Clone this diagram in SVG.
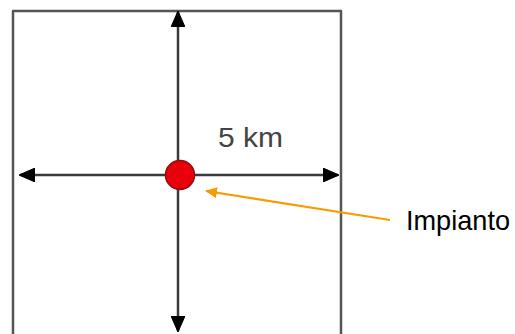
<svg xmlns="http://www.w3.org/2000/svg" width="515" height="334" viewBox="0 0 515 334">
<style>
.frame{fill:none;stroke:#555;stroke-width:2.5;stroke-linejoin:round}
.axis{stroke:#3a3a3a;stroke-width:2.5;fill:none}
.lbl{font-family:"Liberation Sans",Arial,sans-serif;font-size:28px}
</style>
<defs>
<marker id="ah" viewBox="0 0 16 14" refX="15" refY="7" markerWidth="16" markerHeight="14" markerUnits="userSpaceOnUse" orient="auto">
<path d="M0,0 L16,7 L0,14 Z" fill="#000" stroke="#000" stroke-width="1" stroke-linejoin="round"/>
</marker>
<marker id="oh" viewBox="0 0 12 11" refX="11" refY="5.5" markerWidth="12" markerHeight="11" markerUnits="userSpaceOnUse" orient="auto">
<path d="M0,0 L12,5.5 L0,11 Z" fill="#F59C00"/>
</marker>
</defs>
<rect width="515" height="334" fill="#fff"/>
<g id="frame"><path class="frame" d="M13,336 L13,11 L341,11 L341,336"/></g>
<g id="connectors">
<line class="axis" x1="178" y1="175" x2="178" y2="12" marker-end="url(#ah)"/>
<line class="axis" x1="178" y1="175" x2="178" y2="331" marker-end="url(#ah)"/>
<line class="axis" x1="178" y1="175" x2="20" y2="175" marker-end="url(#ah)"/>
<line class="axis" x1="178" y1="175" x2="338" y2="175" marker-end="url(#ah)"/>
<line x1="390" y1="220" x2="206" y2="191" stroke="#F59C00" stroke-width="2.2" marker-end="url(#oh)"/>
</g>
<g id="plant"><circle cx="180" cy="175" r="14.5" fill="#E8000A" stroke="#8a1010" stroke-width="1.5"/></g>
<g id="label-5km"><text class="lbl" x="218" y="147" fill="#444" textLength="65" lengthAdjust="spacingAndGlyphs">5 km</text></g>
<g id="label-impianto"><text class="lbl" x="406" y="230" fill="#000" font-size="29" textLength="104" lengthAdjust="spacingAndGlyphs">Impianto</text></g>
</svg>
